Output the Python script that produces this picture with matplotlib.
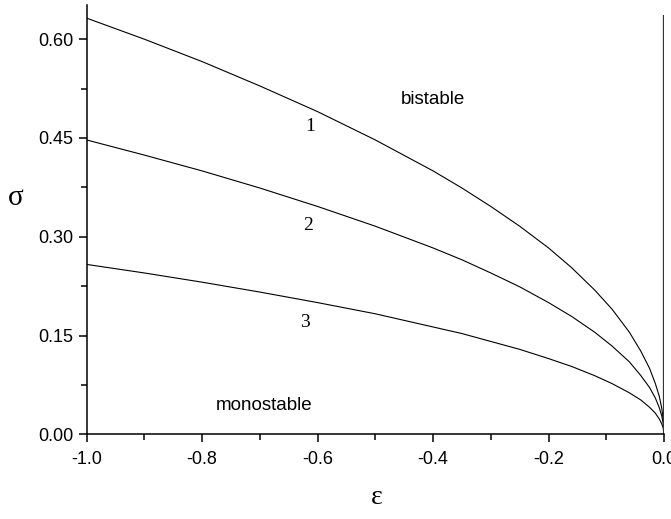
import matplotlib
matplotlib.use("Agg")
import matplotlib.pyplot as plt
from matplotlib.ticker import MultipleLocator

# epsilon grid shared by the three boundary curves (denser near eps = 0)
eps = [-1.0, -0.9, -0.8, -0.7, -0.6, -0.5, -0.4, -0.35, -0.3, -0.25, -0.2, -0.16,
       -0.12, -0.09, -0.06, -0.04, -0.025, -0.015, -0.008, -0.004, -0.0015, -0.0004, 0.0]

sigma_1 = [0.632, 0.600, 0.566, 0.529, 0.490, 0.447, 0.400, 0.374, 0.346, 0.316, 0.283, 0.253,
           0.219, 0.190, 0.155, 0.126, 0.100, 0.077, 0.057, 0.040, 0.024, 0.013, 0.0]
sigma_2 = [0.447, 0.424, 0.400, 0.374, 0.346, 0.316, 0.283, 0.265, 0.245, 0.224, 0.200, 0.179,
           0.155, 0.134, 0.110, 0.089, 0.071, 0.055, 0.040, 0.028, 0.017, 0.009, 0.0]
sigma_3 = [0.258, 0.245, 0.231, 0.216, 0.200, 0.183, 0.163, 0.153, 0.141, 0.129, 0.115, 0.103,
           0.089, 0.077, 0.063, 0.052, 0.041, 0.032, 0.023, 0.016, 0.010, 0.005, 0.0]

curve_labels = ["1", "2", "3"]
label_pos = [(-0.613, 0.467), (-0.617, 0.317), (-0.622, 0.170)]

x_ticks = [-1.0, -0.8, -0.6, -0.4, -0.2, 0.0]
y_ticks = [0.00, 0.15, 0.30, 0.45, 0.60]

sans = "Liberation Sans"
serif = "Liberation Serif"

fig = plt.figure(figsize=(6.71, 5.19), dpi=100)
ax = fig.add_axes([0.1292, 0.1632, 0.9896 - 0.1292, 0.9904 - 0.1632])

for s in (sigma_1, sigma_2, sigma_3):
    ax.plot(eps, s, color="black", lw=0.8)

# vertical boundary at eps = 0
ax.plot([0.0, 0.0], [0.0, 0.637], color="#333333", lw=1.6, solid_capstyle="butt")

ax.set_xlim(-1.0, 0.0)
ax.set_ylim(0.0, 0.652)

ax.spines["top"].set_visible(False)
ax.spines["right"].set_visible(False)
ax.spines["left"].set_linewidth(1.1)
ax.spines["bottom"].set_linewidth(1.1)

ax.set_xticks(x_ticks)
ax.set_xticklabels([f"{v:.1f}" for v in x_ticks])
ax.set_yticks(y_ticks)
ax.set_yticklabels([f"{v:.2f}" for v in y_ticks])
ax.xaxis.set_minor_locator(MultipleLocator(0.1))
ax.yaxis.set_minor_locator(MultipleLocator(0.075))
ax.tick_params(which="major", direction="out", length=6, width=1.1, labelsize=13)
ax.tick_params(which="minor", direction="out", length=4, width=1.1)
for lab in ax.get_xticklabels() + ax.get_yticklabels():
    lab.set_fontfamily(sans)
ax.tick_params(axis="x", pad=6)

fig.text(0.562, 0.042, "ε", fontsize=20, family=serif, ha="center", va="center")
fig.text(0.023, 0.618, "σ", fontsize=21, family=serif, ha="center", va="center")

for lab, (x, y) in zip(curve_labels, label_pos):
    ax.text(x, y, lab, fontsize=14, family=serif, ha="center", va="center")

ax.text(-0.400, 0.509, "bistable", fontsize=13.5, family=sans, ha="center", va="center")
ax.text(-0.692, 0.043, "monostable", fontsize=13.5, family=sans, ha="center", va="center")

fig.savefig("out.png", dpi=100)
